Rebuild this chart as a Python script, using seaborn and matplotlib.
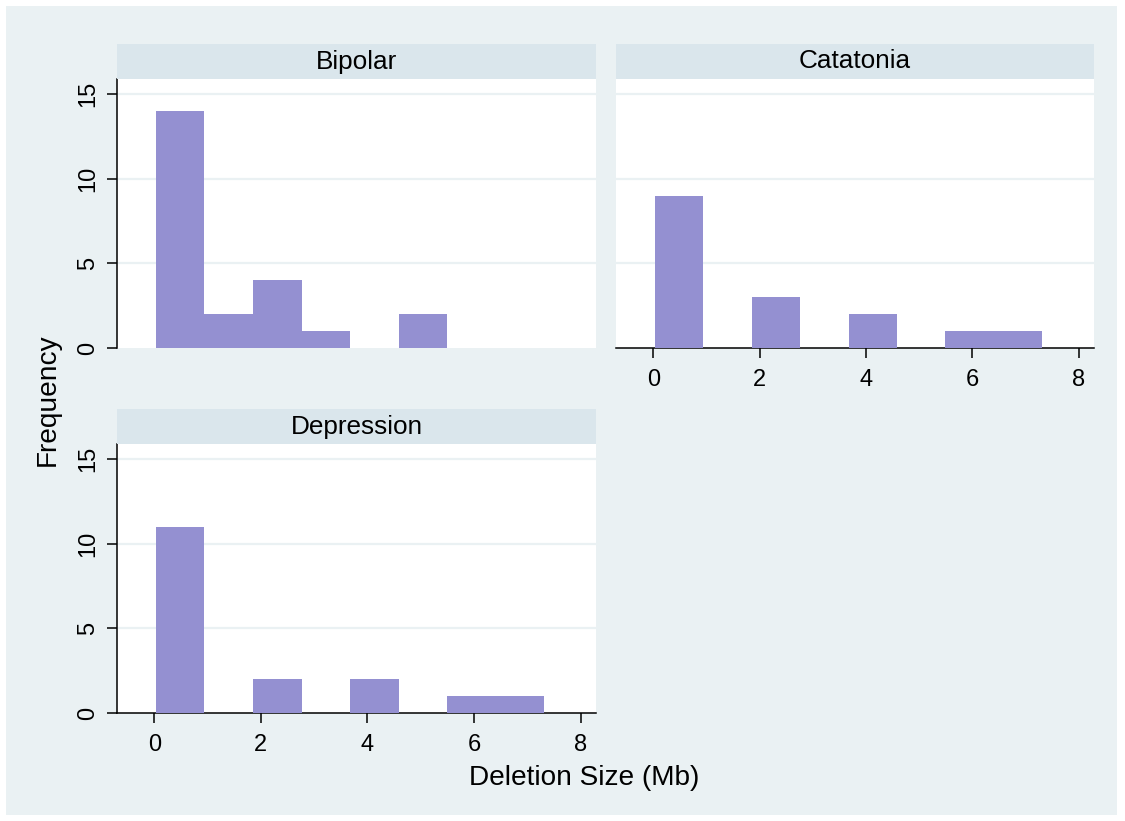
import numpy as np
import pandas as pd
import matplotlib
matplotlib.use("Agg")
import matplotlib.pyplot as plt
import seaborn as sns
from matplotlib.patches import Rectangle

# histogram bins (Mb)
bin_start = 0.03
bin_width = 0.911
n_bins = 8

groups = ["Bipolar", "Catatonia", "Depression"]
bipolar_counts = [14, 2, 4, 1, 0, 2, 0, 0]
catatonia_counts = [9, 0, 3, 0, 2, 0, 1, 1]
depression_counts = [11, 0, 2, 0, 2, 0, 1, 1]
counts = {"Bipolar": bipolar_counts, "Catatonia": catatonia_counts,
          "Depression": depression_counts}

x_ticks = [0, 2, 4, 6, 8]
y_ticks = [0, 5, 10, 15]

bar_color = "#9490D1"
bg_color = "#EAF1F3"
strip_color = "#DAE6EC"

sns.set_style("white")
plt.rcParams["font.family"] = ["Liberation Sans", "DejaVu Sans"]
plt.rcParams["text.color"] = "black"

W, H = 1125, 821
fig = plt.figure(figsize=(W / 100, H / 100), dpi=100, facecolor="white")
fig.patches.append(Rectangle((6 / W, 1 - 815 / H), 1111 / W, 809 / H,
                             transform=fig.transFigure, facecolor=bg_color,
                             edgecolor="none", zorder=-10))

edges = [bin_start + bin_width * i for i in range(n_bins + 1)]
centers = [(edges[i] + edges[i + 1]) / 2 for i in range(n_bins)]

# pixel boxes: (left, top, right, bottom) of plot region
boxes = {
    "Bipolar": (117, 79, 596, 348),
    "Catatonia": (616, 79, 1094, 348),
    "Depression": (117, 444, 596, 713),
}
strip_h = 35

for g in groups:
    l, t, r, b = boxes[g]
    ax = fig.add_axes([l / W, 1 - b / H, (r - l) / W, (b - t) / H])
    ax.set_facecolor("white")
    df = pd.DataFrame({"size": centers, "n": counts[g]})
    sns.histplot(data=df, x="size", weights="n", bins=edges, ax=ax,
                 color=bar_color, alpha=1, edgecolor=bar_color, linewidth=0)
    for p in ax.patches:
        p.set_zorder(3)
    ax.set_xlim(-0.70, 8.29)
    ax.set_ylim(0, 15.9)
    ax.set_yticks(y_ticks)
    for v in y_ticks[1:]:
        ax.axhline(v, color=bg_color, lw=1.6, zorder=1)
    ax.set_xlabel("")
    ax.set_ylabel("")
    for s in ["top", "right"]:
        ax.spines[s].set_visible(False)
    if g == "Catatonia":
        ax.spines["left"].set_visible(False)
        ax.tick_params(axis="y", left=False, labelleft=False)
    else:
        ax.set_yticklabels([str(v) for v in y_ticks], rotation=90,
                           va="center", fontsize=17)
        ax.spines["left"].set_color("black")
        ax.spines["left"].set_linewidth(1.1)
        ax.tick_params(axis="y", length=7, width=1.1, pad=6, left=True,
                       colors="black")
    if g == "Bipolar":
        ax.spines["bottom"].set_visible(False)
        ax.set_xticks([])
    else:
        ax.spines["bottom"].set_color("black")
        ax.spines["bottom"].set_linewidth(1.1)
        ax.set_xticks(x_ticks)
        ax.set_xticklabels([str(v) for v in x_ticks], fontsize=17)
        ax.tick_params(axis="x", length=7, width=1.1, pad=8, bottom=True,
                       colors="black")

    sax = fig.add_axes([l / W, 1 - t / H, (r - l) / W, strip_h / H])
    sax.set_facecolor(strip_color)
    sax.set_xticks([])
    sax.set_yticks([])
    for s in sax.spines.values():
        s.set_visible(False)
    sax.text(0.5, 0.5, g, ha="center", va="center", fontsize=18.8,
             color="black", transform=sax.transAxes)

fig.text(584 / W, 1 - 778 / H, "Deletion Size (Mb)", ha="center",
         va="center", fontsize=20.2, color="black")
fig.text(48 / W, 1 - 400 / H, "Frequency", ha="center", va="center",
         rotation=90, fontsize=20.2, color="black")

fig.savefig("out.png", dpi=100, facecolor="white")
